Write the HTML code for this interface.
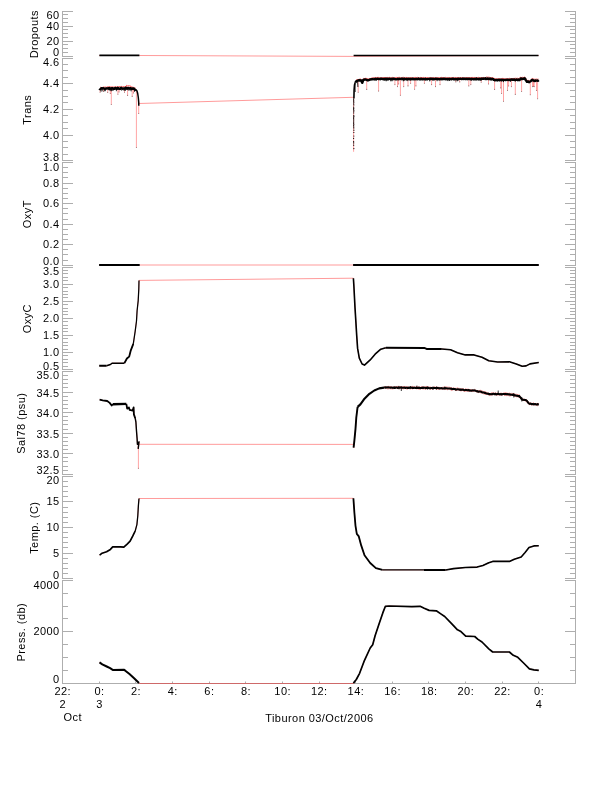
<!DOCTYPE html>
<html lang="en"><head><meta charset="utf-8"><title>Tiburon 03/Oct/2006</title>
<style>html,body{margin:0;padding:0;background:#fff}body{width:612px;height:785px;overflow:hidden}svg{display:block}</style>
</head><body>
<svg width="612" height="785" viewBox="0 0 612 785" font-family="'Liberation Sans', sans-serif" font-size="11" letter-spacing="0.45" fill="#000">
<rect width="612" height="785" fill="#fff"/>
<path d="M62.5 11V57M575.5 11V57M62.0 11.5h11.0M576.0 11.5h-11.0M62.0 14.5h6.0M576.0 14.5h-6.0M62.0 18.5h6.0M576.0 18.5h-6.0M62.0 22.5h6.0M576.0 22.5h-6.0M62.0 26.5h11.0M576.0 26.5h-11.0M62.0 29.5h6.0M576.0 29.5h-6.0M62.0 33.5h6.0M576.0 33.5h-6.0M62.0 37.5h6.0M576.0 37.5h-6.0M62.0 41.5h11.0M576.0 41.5h-11.0M62.0 44.5h6.0M576.0 44.5h-6.0M62.0 48.5h6.0M576.0 48.5h-6.0M62.0 52.5h6.0M576.0 52.5h-6.0M62.0 56.5h11.0M576.0 56.5h-11.0M62.5 58V161M575.5 58V161M62.0 58.5h11.0M576.0 58.5h-11.0M62.0 64.5h6.0M576.0 64.5h-6.0M62.0 70.5h6.0M576.0 70.5h-6.0M62.0 77.5h6.0M576.0 77.5h-6.0M62.0 83.5h11.0M576.0 83.5h-11.0M62.0 90.5h6.0M576.0 90.5h-6.0M62.0 96.5h6.0M576.0 96.5h-6.0M62.0 102.5h6.0M576.0 102.5h-6.0M62.0 109.5h11.0M576.0 109.5h-11.0M62.0 115.5h6.0M576.0 115.5h-6.0M62.0 122.5h6.0M576.0 122.5h-6.0M62.0 128.5h6.0M576.0 128.5h-6.0M62.0 135.5h11.0M576.0 135.5h-11.0M62.0 141.5h6.0M576.0 141.5h-6.0M62.0 147.5h6.0M576.0 147.5h-6.0M62.0 154.5h6.0M576.0 154.5h-6.0M62.0 160.5h11.0M576.0 160.5h-11.0M62.5 162V266M575.5 162V266M62.0 162.5h11.0M576.0 162.5h-11.0M62.0 167.5h6.0M576.0 167.5h-6.0M62.0 172.5h6.0M576.0 172.5h-6.0M62.0 177.5h6.0M576.0 177.5h-6.0M62.0 183.5h11.0M576.0 183.5h-11.0M62.0 188.5h6.0M576.0 188.5h-6.0M62.0 193.5h6.0M576.0 193.5h-6.0M62.0 198.5h6.0M576.0 198.5h-6.0M62.0 203.5h11.0M576.0 203.5h-11.0M62.0 208.5h6.0M576.0 208.5h-6.0M62.0 213.5h6.0M576.0 213.5h-6.0M62.0 219.5h6.0M576.0 219.5h-6.0M62.0 224.5h11.0M576.0 224.5h-11.0M62.0 229.5h6.0M576.0 229.5h-6.0M62.0 234.5h6.0M576.0 234.5h-6.0M62.0 239.5h6.0M576.0 239.5h-6.0M62.0 244.5h11.0M576.0 244.5h-11.0M62.0 249.5h6.0M576.0 249.5h-6.0M62.0 254.5h6.0M576.0 254.5h-6.0M62.0 260.5h6.0M576.0 260.5h-6.0M62.0 265.5h11.0M576.0 265.5h-11.0M62.5 267V370M575.5 267V370M62.0 267.5h11.0M576.0 267.5h-11.0M62.0 270.5h6.0M576.0 270.5h-6.0M62.0 273.5h6.0M576.0 273.5h-6.0M62.0 277.5h6.0M576.0 277.5h-6.0M62.0 280.5h6.0M576.0 280.5h-6.0M62.0 284.5h11.0M576.0 284.5h-11.0M62.0 287.5h6.0M576.0 287.5h-6.0M62.0 291.5h6.0M576.0 291.5h-6.0M62.0 294.5h6.0M576.0 294.5h-6.0M62.0 297.5h6.0M576.0 297.5h-6.0M62.0 301.5h11.0M576.0 301.5h-11.0M62.0 304.5h6.0M576.0 304.5h-6.0M62.0 308.5h6.0M576.0 308.5h-6.0M62.0 311.5h6.0M576.0 311.5h-6.0M62.0 314.5h6.0M576.0 314.5h-6.0M62.0 318.5h11.0M576.0 318.5h-11.0M62.0 321.5h6.0M576.0 321.5h-6.0M62.0 325.5h6.0M576.0 325.5h-6.0M62.0 328.5h6.0M576.0 328.5h-6.0M62.0 331.5h6.0M576.0 331.5h-6.0M62.0 335.5h11.0M576.0 335.5h-11.0M62.0 338.5h6.0M576.0 338.5h-6.0M62.0 342.5h6.0M576.0 342.5h-6.0M62.0 345.5h6.0M576.0 345.5h-6.0M62.0 349.5h6.0M576.0 349.5h-6.0M62.0 352.5h11.0M576.0 352.5h-11.0M62.0 355.5h6.0M576.0 355.5h-6.0M62.0 359.5h6.0M576.0 359.5h-6.0M62.0 362.5h6.0M576.0 362.5h-6.0M62.0 366.5h6.0M576.0 366.5h-6.0M62.0 369.5h11.0M576.0 369.5h-11.0M62.5 371V475M575.5 371V475M62.0 371.5h11.0M576.0 371.5h-11.0M62.0 375.5h6.0M576.0 375.5h-6.0M62.0 379.5h6.0M576.0 379.5h-6.0M62.0 383.5h6.0M576.0 383.5h-6.0M62.0 387.5h6.0M576.0 387.5h-6.0M62.0 392.5h11.0M576.0 392.5h-11.0M62.0 396.5h6.0M576.0 396.5h-6.0M62.0 400.5h6.0M576.0 400.5h-6.0M62.0 404.5h6.0M576.0 404.5h-6.0M62.0 408.5h6.0M576.0 408.5h-6.0M62.0 412.5h11.0M576.0 412.5h-11.0M62.0 416.5h6.0M576.0 416.5h-6.0M62.0 420.5h6.0M576.0 420.5h-6.0M62.0 424.5h6.0M576.0 424.5h-6.0M62.0 429.5h6.0M576.0 429.5h-6.0M62.0 433.5h11.0M576.0 433.5h-11.0M62.0 437.5h6.0M576.0 437.5h-6.0M62.0 441.5h6.0M576.0 441.5h-6.0M62.0 445.5h6.0M576.0 445.5h-6.0M62.0 449.5h6.0M576.0 449.5h-6.0M62.0 453.5h11.0M576.0 453.5h-11.0M62.0 457.5h6.0M576.0 457.5h-6.0M62.0 461.5h6.0M576.0 461.5h-6.0M62.0 466.5h6.0M576.0 466.5h-6.0M62.0 470.5h6.0M576.0 470.5h-6.0M62.0 474.5h11.0M576.0 474.5h-11.0M62.5 476V579M575.5 476V579M62.0 476.5h11.0M576.0 476.5h-11.0M62.0 481.5h6.0M576.0 481.5h-6.0M62.0 486.5h6.0M576.0 486.5h-6.0M62.0 491.5h6.0M576.0 491.5h-6.0M62.0 496.5h6.0M576.0 496.5h-6.0M62.0 501.5h11.0M576.0 501.5h-11.0M62.0 507.5h6.0M576.0 507.5h-6.0M62.0 512.5h6.0M576.0 512.5h-6.0M62.0 517.5h6.0M576.0 517.5h-6.0M62.0 522.5h6.0M576.0 522.5h-6.0M62.0 527.5h11.0M576.0 527.5h-11.0M62.0 532.5h6.0M576.0 532.5h-6.0M62.0 537.5h6.0M576.0 537.5h-6.0M62.0 542.5h6.0M576.0 542.5h-6.0M62.0 547.5h6.0M576.0 547.5h-6.0M62.0 553.5h11.0M576.0 553.5h-11.0M62.0 558.5h6.0M576.0 558.5h-6.0M62.0 563.5h6.0M576.0 563.5h-6.0M62.0 568.5h6.0M576.0 568.5h-6.0M62.0 573.5h6.0M576.0 573.5h-6.0M62.0 578.5h11.0M576.0 578.5h-11.0M62.5 580V684M575.5 580V684M62.0 580.5h11.0M576.0 580.5h-11.0M62.0 593.5h6.0M576.0 593.5h-6.0M62.0 606.5h6.0M576.0 606.5h-6.0M62.0 618.5h6.0M576.0 618.5h-6.0M62.0 631.5h11.0M576.0 631.5h-11.0M62.0 644.5h6.0M576.0 644.5h-6.0M62.0 657.5h6.0M576.0 657.5h-6.0M62.0 670.5h6.0M576.0 670.5h-6.0M62.0 683.5h11.0M576.0 683.5h-11.0M62.0 683.5H576.0M99.5 683.5v-2M135.5 683.5v-2M172.5 683.5v-2M209.5 683.5v-2M245.5 683.5v-2M282.5 683.5v-2M319.5 683.5v-2M355.5 683.5v-2M392.5 683.5v-2M428.5 683.5v-2M465.5 683.5v-2M502.5 683.5v-2M538.5 683.5v-2" stroke="#aeaeae" stroke-width="1" fill="none"/>
<g fill="none" stroke-linejoin="round" stroke-linecap="butt">
<path d="M99.5 662.4L102.3 664.3L106.7 666.5L110.1 668.2L112.7 669.9L123.8 669.7L125.3 670.7L129.2 673.8L134.1 678.2L139.3 683.5L353.4 683.5L356.3 679.5L359.6 673.3L364.5 660.3L370.2 648.0L372.7 644.7L375.1 635.8L379.2 623.5L382.8 612.9L385.4 606.3L389.0 606.0L411.9 606.7L420.1 606.3L424.2 608.3L429.1 610.4L436.3 610.8L440.8 613.9L444.7 616.5L451.6 623.7L457.5 629.8L460.4 631.2L465.7 636.1L474.7 636.5L478.0 639.4L482.0 642.0L488.8 648.8L492.7 652.0L509.4 652.0L513.3 655.3L517.8 657.3L524.1 663.5L529.4 668.8L533.9 669.8L538.8 670.4M99.6 555.2L102.1 553.2L106.6 551.7L110.4 549.4L112.7 546.9L120.6 546.9L123.8 547.1L126.9 544.3L130.1 541.1L132.7 536.1L135.2 531.0L136.9 524.6L137.8 515.7L138.4 505.5L139.0 498.5L353.4 498.3L354.4 512.7L355.5 525.8L356.8 533.9L358.8 536.4L361.2 545.4L364.5 555.2L370.2 563.0L375.9 568.2L382.5 569.9L424.0 569.9L445.7 570.0L453.5 568.6L465.3 567.5L477.1 567.1L482.9 565.5L488.8 562.7L492.7 561.4L509.4 561.4L514.3 559.2L521.2 556.9L525.1 552.4L529.0 547.5L533.9 545.9L538.8 545.7M384.1 386.7L385.1 386.4L386.1 387.1L387.1 386.9L388.1 386.1L389.1 386.9L390.1 386.6L391.1 386.5L392.1 387.3L393.1 387.1L394.1 386.7L395.1 386.9L396.1 386.6L397.1 386.5L398.1 386.3L399.1 386.7L400.1 387.0L401.1 386.0L402.1 387.0L403.1 386.6L404.1 386.3L405.1 386.8L406.1 386.8L407.1 386.9L408.1 386.6L409.1 387.6L410.1 387.1L411.1 387.1L412.1 386.2L413.1 386.8L414.1 386.7L415.1 387.3L416.1 386.7L417.1 386.7L418.1 386.8L419.1 387.1L420.1 387.4L421.1 386.9L422.1 386.6L423.1 387.1L424.1 386.9L425.1 387.0L426.1 386.4L427.1 386.6L428.1 387.0L429.1 387.1L430.1 386.9L431.2 387.5L432.2 387.2L433.2 387.8L434.2 386.6L435.2 387.4L436.2 386.9L437.2 387.3L438.2 387.2L439.2 387.4L440.2 387.4L441.2 387.9L442.2 387.4L443.2 387.2L444.2 387.3L445.2 386.9L446.2 386.9L447.3 387.1L448.3 387.2L449.3 387.2L450.4 387.5L451.4 387.5L452.4 388.4L453.4 387.8L454.5 388.2L455.5 388.3L456.5 388.3L457.5 387.8L458.5 388.3L459.5 388.4L460.5 388.7L461.5 388.9L462.5 388.6L463.5 389.0L464.5 389.7L465.6 388.6L466.6 389.3L467.6 389.2L468.6 389.2L469.6 389.9L470.6 389.6L471.6 389.8L472.6 389.6L473.6 390.1L474.6 389.3L475.6 390.1L476.7 390.6L477.7 390.7L478.7 390.7L479.8 390.4L480.8 390.3L481.9 390.9L482.9 391.2L484.0 392.0L485.0 391.5L486.1 392.3L487.2 392.4L488.3 393.1L489.3 393.4L490.3 393.6L491.3 392.8L492.3 393.0L493.3 392.7L494.3 393.4L495.3 392.6L496.3 393.4L497.3 392.9L498.3 393.4L499.4 394.0L500.4 393.3L501.4 392.9L502.4 393.9L503.4 392.9L504.4 392.9L505.4 392.6L506.4 392.9L507.4 393.2L508.4 393.4L509.5 393.1L510.5 393.7L511.6 393.4L512.7 393.8L513.8 393.5L514.8 394.1L515.9 394.3L517.0 394.3L518.1 394.9L519.2 394.8L520.2 396.3L521.2 397.7L522.2 398.9L523.3 399.2L524.4 399.2L525.5 399.5L526.7 399.7L527.8 401.0L529.0 403.1L530.1 402.7L531.2 403.2L532.3 403.5L533.4 402.7L534.4 403.5L535.5 403.6L536.6 403.7L537.7 403.4L538.8 403.6M384.6 387.9L385.6 388.3L386.6 388.4L387.6 388.9L388.6 388.8L389.6 388.6L390.6 388.8L391.6 388.8L392.6 389.0L393.6 388.7L394.6 388.0L395.6 388.0L396.6 388.0L397.6 388.6L398.6 388.2L399.6 388.8L400.6 388.4L401.6 388.5L402.6 388.7L403.6 388.9L404.6 388.5L405.6 388.3L406.6 389.0L407.6 389.1L408.6 388.5L409.6 388.4L410.6 389.0L411.6 388.2L412.6 389.0L413.6 388.5L414.6 388.1L415.6 388.5L416.6 388.9L417.6 388.7L418.6 389.1L419.6 389.4L420.6 389.1L421.6 388.5L422.6 388.9L423.6 389.0L424.6 388.9L425.6 389.1L426.6 388.9L427.6 388.7L428.6 388.5L429.6 388.9L430.6 389.4L431.7 388.7L432.7 389.3L433.7 388.3L434.7 388.4L435.7 388.8L436.7 389.1L437.7 389.2L438.7 389.3L439.7 389.0L440.7 389.2L441.7 388.8L442.7 389.3L443.7 389.0L444.7 389.5L445.7 389.1L446.8 389.6L447.8 389.7L448.8 388.8L449.8 389.4L450.9 390.0L451.9 390.6L452.9 389.7L454.0 389.7L455.0 389.6L456.0 391.0L457.0 390.0L458.0 390.2L459.0 389.9L460.0 390.3L461.0 391.3L462.0 390.1L463.0 390.8L464.0 391.1L465.0 391.4L466.1 391.1L467.1 390.9L468.1 391.7L469.1 391.0L470.1 391.1L471.1 391.0L472.1 391.5L473.1 391.4L474.1 391.0L475.1 391.1L476.1 391.8L477.2 391.8L478.2 392.9L479.3 391.9L480.3 392.7L481.3 393.0L482.4 393.0L483.4 393.8L484.5 394.1L485.6 394.5L486.7 394.3L487.7 394.4L488.8 395.0L489.8 395.6L490.8 394.9L491.8 395.1L492.8 394.7L493.8 394.5L494.8 394.7L495.8 394.8L496.8 395.4L497.8 394.8L498.9 395.1L499.9 394.9L500.9 395.1L501.9 395.3L502.9 394.5L503.9 394.8L504.9 395.6L505.9 395.4L506.9 395.7L507.9 395.2L508.9 395.9L510.0 396.1L511.1 395.6L512.2 395.6L513.2 395.3L514.3 396.5L515.4 396.3L516.5 396.8L517.6 396.9L518.7 397.0L519.7 397.2L520.7 399.0L521.7 399.5L522.8 400.6L523.9 400.5L525.0 400.6L526.1 401.4L527.3 402.8L528.4 403.7L529.5 404.8L530.6 404.3L531.7 405.2L532.8 404.7L533.9 404.9L535.0 404.8L536.1 405.0L537.2 405.8L538.3 405.3M99.6 399.7L102.7 400.4L107.2 401.0L109.7 402.9L111.7 405.5L112.9 404.2L126.3 403.9L127.2 408.7L128.9 407.4L129.7 409.9L132.7 410.6L133.6 407.4L133.9 414.4L135.2 418.2L135.9 422.0L136.5 431.0L137.1 438.6L137.4 444.3L139.0 441.8L138.2 448.8L138.4 444.3L353.4 444.4L353.6 447.7L354.4 440.4L355.5 428.9L356.3 417.5L357.6 406.9L360.4 404.4L364.5 398.7L369.4 393.8L374.3 390.5L379.2 388.4L384.1 387.6L417.1 387.8L444.7 388.3L455.5 389.3L475.1 390.7L482.9 392.3L488.8 394.0L508.4 394.2L514.3 395.2L519.2 396.2L522.2 399.5L526.1 400.1L529.0 403.4L533.9 404.4L538.8 404.2M99.2 365.8L106.6 365.8L110.4 364.5L112.3 363.2L124.4 363.2L126.9 358.5L129.2 356.6L130.8 350.3L133.3 343.9L135.2 331.1L136.5 321.0L137.1 310.8L138.2 300.6L138.8 289.1L139.0 280.4L353.4 278.2L353.9 286.3L355.0 307.6L356.0 323.9L356.7 335.4L357.6 348.4L359.3 358.2L362.1 364.0L364.5 365.1L370.2 359.9L375.1 354.2L380.8 349.2L385.8 347.8L424.2 347.9L426.6 348.9L441.8 349.0L450.6 349.8L457.5 352.7L465.3 354.9L474.1 354.9L482.0 357.3L488.8 360.8L497.6 362.0L509.4 361.8L516.3 363.9L522.2 366.3L526.1 365.9L530.0 363.9L538.8 362.5M99.1 265.0L139.7 265.0L353.1 265.0L538.8 265.0M99.1 55.5L139.7 55.5L353.3 56.4L538.8 55.5M138.8 103.5L353.1 97.3" stroke="#ff0000" stroke-width="0.4"/>
<path d="M100.2 87.4L100.8 87.3L101.4 87.5L102.0 87.4L102.6 87.4L103.2 86.9L103.8 87.3L104.4 87.2L105.0 87.3L105.6 87.1L106.2 87.4L106.8 87.1L107.4 86.9L108.0 86.9L108.6 86.8L109.2 87.0L109.8 86.7L110.4 87.0L111.0 86.7L111.6 87.0L112.2 86.9L112.8 87.0L113.4 87.2L114.0 86.6L114.6 87.1L115.2 86.9L115.8 86.9L116.4 87.0L117.0 87.1L117.6 86.7L118.2 86.8L118.8 87.1L119.4 86.5L120.0 86.9L120.6 86.9L121.2 86.4L121.8 86.8L122.4 86.9L123.0 87.0L123.6 86.6L124.2 87.0L124.8 86.7L125.4 86.7L126.0 86.9L126.6 85.4L127.2 85.9L127.8 85.9L128.4 85.7L129.0 86.2L129.6 85.9L130.2 86.0L130.8 86.1L131.4 87.3L132.0 87.0L132.6 87.2L133.2 87.3L133.8 87.5L134.4 87.9L135.0 87.7L135.6 88.2M356.0 80.4L356.6 79.9L357.2 79.6L357.8 79.5L358.4 79.5L359.0 79.1L359.6 79.2L360.2 79.0L360.8 79.2L361.4 79.7L362.0 81.2L362.6 80.6L363.2 79.2L363.8 78.3L364.4 78.5L365.0 78.4L365.6 78.3L366.2 78.3L366.8 78.6L367.4 78.7L368.0 78.9L368.6 79.1L369.2 78.7L369.8 78.5L370.4 78.5L371.0 78.4L371.6 78.1L372.2 78.0L372.8 77.9L373.4 77.9L374.0 77.7L374.6 77.8L375.2 77.5L375.8 77.8L376.4 77.6L377.0 77.8L377.6 77.4L378.2 77.5L378.8 77.4L379.4 77.8L380.0 77.9L380.6 77.7L381.2 77.6L381.8 77.8L382.4 77.8L383.0 77.7L383.6 77.5L384.2 77.5L384.8 77.6L385.4 77.5L386.0 77.6L386.6 77.7L387.2 77.9L387.8 77.4L388.4 77.7L389.0 77.4L389.6 77.4L390.2 77.8L390.8 77.7L391.4 77.9L392.0 77.6L392.6 77.4L393.2 77.6L393.8 77.7L394.4 77.9L395.0 77.9L395.6 77.6L396.2 77.6L396.8 77.4L397.4 77.7L398.0 77.5L398.6 77.4L399.2 77.4L399.8 77.4L400.4 77.8L401.0 77.4L401.6 77.9L402.2 77.4L402.8 77.9L403.4 77.4L404.0 77.4L404.6 77.8L405.2 77.5L405.8 77.8L406.4 77.5L407.0 77.4L407.6 77.8L408.2 77.8L408.8 77.9L409.4 77.8L410.0 77.4L410.6 77.7L411.2 77.8L411.8 77.6L412.4 77.9L413.0 77.5L413.6 77.9L414.2 77.8L414.8 77.4L415.4 77.4L416.0 77.7L416.6 77.8L417.2 77.4L417.8 77.5L418.4 77.8L419.0 77.4L419.6 77.9L420.2 77.6L420.8 77.4L421.4 77.6L422.0 77.7L422.6 77.6L423.2 77.8L423.8 77.4L424.4 77.8L425.0 77.6L425.6 77.7L426.2 77.7L426.8 77.6L427.4 77.6L428.0 77.8L428.6 77.9L429.2 77.8L429.8 77.7L430.4 77.5L431.0 77.4L431.6 77.9L432.2 77.8L432.8 77.8L433.4 77.5L434.0 77.7L434.6 77.9L435.2 77.8L435.8 77.7L436.4 77.5L437.0 77.6L437.6 77.9L438.2 77.6L438.8 77.8L439.4 77.7L440.0 77.9L440.6 77.8L441.2 77.5L441.8 77.4L442.4 77.5L443.0 77.6L443.6 77.7L444.2 77.8L444.8 77.9L445.4 77.4L446.0 77.8L446.6 77.8L447.2 77.9L447.8 77.7L448.4 77.5L449.0 77.9L449.6 77.8L450.2 77.8L450.8 77.9L451.4 77.6L452.0 77.4L452.6 77.7L453.2 77.8L453.8 77.5L454.4 77.8L455.0 77.9L455.6 77.5L456.2 77.7L456.8 77.8L457.4 77.6L458.0 77.5L458.6 77.5L459.2 77.8L459.8 77.8L460.4 77.6L461.0 77.4L461.6 77.8L462.2 77.8L462.8 77.5L463.4 77.7L464.0 77.9L464.6 77.9L465.2 77.7L465.8 77.6L466.4 77.7L467.0 77.5L467.6 77.5L468.2 77.5L468.8 77.8L469.4 77.6L470.0 77.7L470.6 77.6L471.2 77.7L471.8 77.4L472.4 77.4L473.0 77.9L473.6 77.6L474.2 77.4L474.8 77.7L475.4 77.8L476.0 77.4L476.6 77.7L477.2 77.6L477.8 77.7L478.4 77.4L479.0 77.4L479.6 77.9L480.2 77.9L480.8 77.6L481.4 77.6L482.0 77.4L482.6 77.7L483.2 77.4L483.8 77.7L484.4 77.6L485.0 77.6L485.6 77.6L486.2 77.2L486.8 77.1L487.4 77.2L488.0 77.2L488.6 77.2L489.2 77.2L489.8 77.5L490.4 77.7L491.0 77.5L491.6 77.8L492.2 77.8L492.8 77.5L493.4 78.2L494.0 78.4L494.6 78.5L495.2 79.0L495.8 78.6L496.4 78.8L497.0 78.8L497.6 79.0L498.2 78.8L498.8 78.6L499.4 78.7L500.0 78.5L500.6 79.0L501.2 79.0L501.8 78.5L502.4 78.4L503.0 78.5L503.6 78.5L504.2 78.9L504.8 78.9L505.4 78.8L506.0 78.3L506.6 78.8L507.2 78.7L507.8 78.7L508.4 78.9L509.0 78.3L509.6 78.4L510.2 78.7L510.8 78.8L511.4 78.7L512.0 78.4L512.6 78.6L513.2 78.7L513.8 78.3L514.4 78.4L515.0 78.4L515.6 78.3L516.2 78.5L516.8 78.3L517.4 78.3L518.0 78.3L518.6 78.6L519.2 78.2L519.8 78.1L520.4 77.3L521.0 77.1L521.6 77.6L522.2 77.2L522.8 77.6L523.4 77.6L524.0 77.6L524.6 77.1L525.2 77.5L525.8 78.6L526.4 80.3L527.0 80.4L527.6 80.4L528.2 80.4L528.8 80.5L529.4 80.9L530.0 80.5L530.6 80.1L531.2 79.4L531.8 79.0L532.4 78.5L533.0 79.1L533.6 79.1L534.2 79.0L534.8 79.6L535.4 79.3L536.0 79.3L536.6 79.1L537.2 79.1L537.8 79.4L538.4 79.1" stroke="#ff0000" stroke-width="0.7"/>
<path d="M138.4 445.0L138.4 468.5M100.1 88.7L100.1 92.3M103.5 88.6L103.5 91.5M107.7 88.5L107.7 92.5M110.3 88.4L110.3 93.5M111.3 88.4L111.3 104.5M117.9 88.3L117.9 94.3M119.0 88.2L119.0 92.0M124.5 88.1L124.5 92.2M127.6 88.2L127.6 95.4M132.2 88.6L132.2 96.4M133.5 88.8L133.5 93.0M136.4 90.3L136.4 147.5M138.7 102.0L138.7 113.5M358.2 80.6L358.2 92.3M366.7 80.0L366.7 89.4M378.6 78.9L378.6 91.1M394.9 78.9L394.9 84.6M397.5 78.9L397.5 86.6M398.6 78.9L398.6 84.0M400.4 78.9L400.4 95.3M403.7 78.9L403.7 86.6M408.0 78.9L408.0 85.9M410.6 78.9L410.6 83.3M414.6 78.9L414.6 89.2M415.9 78.9L415.9 85.9M424.4 78.9L424.4 83.3M431.6 78.9L431.6 84.6M435.5 78.9L435.5 86.6M440.0 78.9L440.0 84.6M455.8 78.9L455.8 81.9M459.7 78.9L459.7 81.9M468.8 78.9L468.8 85.9M470.8 78.9L470.8 84.6M481.2 78.8L481.2 82.2M488.5 78.7L488.5 84.0M494.6 80.0L494.6 89.4M500.7 79.9L500.7 87.9M501.6 79.9L501.6 93.5M503.5 79.9L503.5 101.3M507.5 79.8L507.5 90.5M508.6 79.8L508.6 86.0M511.4 79.8L511.4 86.6M515.3 79.7L515.3 94.4M521.6 78.6L521.6 91.5M530.3 81.5L530.3 94.8M532.6 80.1L532.6 86.6M533.4 80.3L533.4 86.2M534.2 80.5L534.2 86.6M536.5 80.6L536.5 90.5M537.6 80.5L537.6 98.7M353.6 97.3L353.6 151.8" stroke="#ff0000" stroke-width="0.36"/>
<g transform="scale(1.0 1)" stroke-linecap="butt">
<path d="M398.90 385.9L398.90 389.3M401.30 386.5L401.30 391.0M416.90 385.6L416.90 388.0M410.50 386.2L410.50 388.0M427.60 386.3L427.60 389.4M433.10 386.4L433.10 389.5M436.50 386.6L436.50 389.5M444.70 386.6L444.70 389.5M498.20 390.5L498.20 395.0M513.80 393.0L513.80 397.5M521.80 397.0L521.80 401.5" stroke="#000" stroke-width="0.8"/>
<path d="M133.30 343.9L135.20 331.1L136.50 321.0L137.10 310.8L138.20 300.6L138.80 289.1L139.00 280.4" stroke="#000" stroke-width="1.25"/>
<path d="M135.20 531.0L136.90 524.6L137.80 515.7L138.40 505.5L139.00 498.5" stroke="#000" stroke-width="1.3"/>
<path d="M382.50 569.9L424.00 569.9" stroke="#000" stroke-width="1.35"/>
<path d="M135.20 418.2L135.90 422.0L136.50 431.0L137.10 438.6L137.40 444.3L139.00 441.8L138.20 448.8" stroke="#000" stroke-width="1.4"/>
<path d="M106.60 365.8L110.40 364.5L112.30 363.2L124.40 363.2M135.70 89.5L136.90 90.8L137.70 93.5L138.30 97.5L138.70 102.0L138.80 105.8" stroke="#000" stroke-width="1.5"/>
<path d="M445.70 570.0L453.50 568.6L465.30 567.5L477.10 567.1L482.90 565.5L488.80 562.7L492.70 561.4L509.40 561.4L514.30 559.2L521.20 556.9L525.10 552.4L529.00 547.5L533.90 545.9L538.80 545.7M353.40 278.2L353.90 286.3L355.00 307.6L356.00 323.9L356.70 335.4L357.60 348.4L359.30 358.2L362.10 364.0L364.50 365.1L370.20 359.9L375.10 354.2L380.80 349.2L385.80 347.8M441.80 349.0L450.60 349.8L457.50 352.7L465.30 354.9L474.10 354.9L482.00 357.3L488.80 360.8L497.60 362.0L509.40 361.8L516.30 363.9L522.20 366.3L526.10 365.9L530.00 363.9L538.80 362.5M99.40 55.4L139.40 55.4M353.60 55.5L538.50 55.5M353.90 98.5L354.10 90.0L354.50 85.0L355.30 82.3" stroke="#000" stroke-width="1.6"/>
<path d="M353.40 683.1L356.30 679.5L359.60 673.3L364.50 660.3L370.20 648.0L372.70 644.7L375.10 635.8L379.20 623.5L382.80 612.9L385.40 606.3L389.00 606.0L411.90 606.7L420.10 606.3L424.20 608.3L429.10 610.4L436.30 610.8L440.80 613.9L444.70 616.5L451.60 623.7L457.50 629.8L460.40 631.2L465.70 636.1L474.70 636.5L478.00 639.4L482.00 642.0L488.80 648.8L492.70 652.0L509.40 652.0L513.30 655.3L517.80 657.3L524.10 663.5L529.40 668.8L533.90 669.8L538.80 670.4M99.60 555.2L102.10 553.2L106.60 551.7L110.40 549.4L112.70 546.9L120.60 546.9L123.80 547.1L126.90 544.3L130.10 541.1L132.70 536.1L135.20 531.0" stroke="#000" stroke-width="1.7"/>
<path d="M353.40 498.3L354.40 512.7L355.50 525.8L356.80 533.9L358.80 536.4L361.20 545.4L364.50 555.2L370.20 563.0L375.90 568.2L382.50 569.9M99.60 399.7L102.70 400.4L107.20 401.0L109.70 402.9L111.70 405.5L112.90 404.2M126.30 403.9L127.20 408.7L128.90 407.4L129.70 409.9L132.70 410.6L133.60 407.4L133.90 414.4L135.20 418.2M124.40 363.2L126.90 358.5L129.20 356.6L130.80 350.3L133.30 343.9" stroke="#000" stroke-width="1.8"/>
<path d="M353.60 447.7L354.40 440.4L355.50 428.9L356.30 417.5L357.60 406.9" stroke="#000" stroke-width="1.9"/>
<path d="M99.50 662.4L102.30 664.3L106.70 666.5L110.10 668.2L112.70 669.9L123.80 669.7L125.30 670.7L129.20 673.8L134.10 678.2L139.00 683.0M424.00 569.9L445.70 570.0M384.10 387.5L384.60 387.4L385.10 387.7L385.60 387.3L386.10 387.6L386.60 387.5L387.10 387.3L387.60 387.6L388.10 387.3L388.60 387.6L389.10 387.4L389.60 387.4L390.10 387.6L390.60 387.8L391.10 387.4L391.60 387.5L392.10 387.7L392.60 387.9L393.10 387.7L393.60 387.6L394.10 388.0L394.60 387.4L395.10 387.9L395.60 387.5L396.10 387.4L396.60 387.4L397.10 387.6L397.60 387.9L398.10 387.5L398.60 387.7L399.10 387.8L399.60 387.6L400.10 387.7L400.60 387.4L401.10 387.4L401.60 387.5L402.10 387.8L402.60 387.7L403.10 387.6L403.60 387.8L404.10 387.7L404.60 387.6L405.10 387.9L405.60 387.9L406.10 387.6L406.60 387.8L407.10 387.8L407.60 388.0L408.10 387.9L408.60 387.6L409.10 388.1L409.60 387.5L410.10 387.7L410.60 387.9L411.10 387.5L411.60 387.8L412.10 387.5L412.60 387.9L413.10 387.9L413.60 387.8L414.10 388.0L414.60 387.7L415.10 387.9L415.60 387.9L416.10 387.8L416.60 387.8L417.10 388.0L417.60 388.1L418.10 387.8L418.61 387.9L419.11 387.6L419.61 388.0L420.11 387.9L420.61 388.2L421.11 388.1L421.62 387.7L422.12 387.8L422.62 388.0L423.12 387.6L423.62 387.9L424.13 387.7L424.63 387.7L425.13 387.7L425.63 388.1L426.13 387.7L426.63 387.8L427.14 387.9L427.64 388.2L428.14 387.7L428.64 388.0L429.14 388.0L429.65 388.3L430.15 388.2L430.65 388.3L431.15 387.9L431.65 388.0L432.15 388.0L432.66 388.3L433.16 388.4L433.66 387.9L434.16 387.9L434.66 387.9L435.17 388.0L435.67 388.1L436.17 388.2L436.67 388.0L437.17 387.8L437.67 388.1L438.18 388.1L438.68 388.2L439.18 388.5L439.68 388.3L440.18 388.2L440.69 388.3L441.19 388.3L441.69 388.0L442.19 388.5L442.69 388.4L443.19 388.5L443.70 388.5L444.20 388.2L444.70 388.2L445.21 388.1L445.73 388.5L446.24 388.2L446.76 388.2L447.27 388.4L447.79 388.4L448.30 388.5L448.81 388.4L449.33 388.4L449.84 388.6L450.36 388.6L450.87 388.8L451.39 388.6L451.90 389.2L452.41 389.1L452.93 388.8L453.44 389.0L453.96 389.1L454.47 389.1L454.99 389.0L455.50 389.5L456.00 389.7L456.51 389.4L457.01 389.4L457.51 389.2L458.01 389.2L458.52 389.4L459.02 389.4L459.52 389.8L460.02 389.4L460.53 389.4L461.03 390.0L461.53 389.7L462.03 389.5L462.54 389.8L463.04 389.5L463.54 389.9L464.04 390.2L464.55 390.2L465.05 390.1L465.55 389.9L466.05 390.0L466.56 389.9L467.06 390.3L467.56 390.2L468.06 390.4L468.57 390.1L469.07 390.1L469.57 390.5L470.07 390.7L470.58 390.6L471.08 390.6L471.58 390.7L472.08 390.6L472.59 390.3L473.09 390.6L473.59 390.5L474.09 390.3L474.60 390.4L475.10 390.6L475.62 390.7L476.14 391.0L476.66 391.3L477.18 391.1L477.70 391.5L478.22 391.7L478.74 391.7L479.26 391.5L479.78 391.5L480.30 391.6L480.82 391.7L481.34 391.8L481.86 392.2L482.38 392.4L482.90 392.5L483.44 392.4L483.97 392.7L484.51 393.0L485.05 392.7L485.58 393.2L486.12 393.5L486.65 393.6L487.19 393.7L487.73 393.7L488.26 393.6L488.80 394.2L489.30 393.9L489.81 394.2L490.31 394.3L490.81 394.0L491.31 394.0L491.82 394.3L492.32 394.2L492.82 393.8L493.32 393.8L493.83 393.8L494.33 394.3L494.83 394.3L495.33 393.8L495.84 394.3L496.34 394.4L496.84 394.2L497.34 394.0L497.85 394.1L498.35 393.9L498.85 393.8L499.35 394.4L499.86 394.2L500.36 394.1L500.86 394.4L501.36 394.1L501.87 394.4L502.37 394.3L502.87 394.0L503.37 394.0L503.88 394.0L504.38 394.0L504.88 394.2L505.38 394.0L505.89 394.1L506.39 393.9L506.89 394.4L507.39 394.1L507.90 394.2L508.40 394.3L508.94 394.5L509.47 394.3L510.01 394.7L510.55 394.6L511.08 394.7L511.62 394.8L512.15 394.5L512.69 394.9L513.23 394.8L513.76 394.8L514.30 395.4L514.84 395.1L515.39 395.4L515.93 395.7L516.48 395.7L517.02 395.6L517.57 395.9L518.11 396.0L518.66 396.3L519.20 395.9L519.70 396.8L520.20 397.1L520.70 397.7L521.20 398.6L521.70 399.0L522.20 399.5L522.76 399.8L523.31 399.9L523.87 399.7L524.43 399.9L524.99 399.9L525.54 400.0L526.10 400.2L526.68 400.7L527.26 401.4L527.84 402.1L528.42 403.0L529.00 403.5L529.54 403.8L530.09 403.9L530.63 403.6L531.18 403.9L531.72 404.2L532.27 404.3L532.81 403.9L533.36 404.0L533.90 404.4L534.44 404.1L534.99 404.2L535.53 404.1L536.08 404.4L536.62 404.5L537.17 404.5L537.71 404.0L538.26 404.4L538.80 404.2M99.20 365.8L106.60 365.8M385.80 347.8L424.20 347.9L426.60 348.9L441.80 349.0" stroke="#000" stroke-width="2.0"/>
<path d="M357.60 406.9L360.40 404.4L364.50 398.7L369.40 393.8L374.30 390.5L379.20 388.4L384.10 387.6" stroke="#000" stroke-width="2.1"/>
<path d="M99.10 265.0L139.70 265.0M353.10 265.0L538.80 265.0" stroke="#000" stroke-width="2.2"/>
<path d="M374.00 79.1L374.45 79.3L374.90 78.9L375.35 78.7L375.80 78.8L376.26 79.4L376.71 79.1L377.16 78.8L377.61 78.6L378.06 79.0L378.51 79.1L378.96 78.9L379.41 78.8L379.86 79.1L380.31 79.3L380.77 78.7L381.22 78.6L381.67 78.8L382.12 78.9L382.57 79.1L383.02 78.7L383.47 79.2L383.92 79.2L384.37 79.0L384.83 78.7L385.28 79.4L385.73 78.8L386.18 79.2L386.63 78.7L387.08 78.7L387.53 79.2L387.98 78.8L388.43 79.4L388.89 79.0L389.34 78.7L389.79 78.7L390.24 78.9L390.69 79.1L391.14 79.4L391.59 78.7L392.04 78.9L392.49 78.7L392.94 79.4L393.40 78.7L393.85 78.6L394.30 78.6L394.75 78.9L395.20 79.3L395.65 79.3L396.10 79.2L396.55 79.4L397.00 79.3L397.46 78.8L397.91 78.7L398.36 79.3L398.81 79.2L399.26 78.6L399.71 79.1L400.16 78.9L400.61 78.9L401.06 78.8L401.51 78.7L401.97 78.5L402.42 78.8L402.87 78.8L403.32 79.4L403.77 78.6L404.22 79.4L404.67 78.7L405.12 78.8L405.57 79.2L406.03 79.2L406.48 78.9L406.93 78.6L407.38 78.9L407.83 78.9L408.28 79.3L408.73 78.7L409.18 78.9L409.63 79.3L410.09 78.6L410.54 78.9L410.99 79.2L411.44 79.2L411.89 78.6L412.34 78.6L412.79 78.6L413.24 79.3L413.69 78.8L414.14 79.2L414.60 79.3L415.05 78.8L415.50 78.8L415.95 79.4L416.40 79.1L416.85 78.8L417.30 79.2L417.75 78.8L418.20 78.8L418.66 78.5L419.11 79.2L419.56 79.3L420.01 79.1L420.46 79.4L420.91 78.6L421.36 78.7L421.81 78.9L422.26 79.4L422.71 79.4L423.17 78.9L423.62 78.8L424.07 78.9L424.52 79.0L424.97 79.3L425.42 78.7L425.87 79.2L426.32 79.2L426.77 79.2L427.23 79.2L427.68 79.1L428.13 78.8L428.58 78.8L429.03 78.8L429.48 79.2L429.93 78.6L430.38 78.7L430.83 79.2L431.29 78.8L431.74 78.6L432.19 78.6L432.64 79.0L433.09 78.8L433.54 79.4L433.99 79.3L434.44 79.4L434.89 78.8L435.34 78.6L435.80 78.6L436.25 79.0L436.70 79.1L437.15 78.9L437.60 78.7L438.05 78.9L438.50 79.1L438.95 79.1L439.40 79.2L439.86 79.3L440.31 79.1L440.76 78.6L441.21 79.3L441.66 78.8L442.11 79.0L442.56 78.9L443.01 79.2L443.46 78.7L443.91 78.8L444.37 78.7L444.82 78.7L445.27 79.3L445.72 79.0L446.17 78.8L446.62 78.9L447.07 79.4L447.52 79.0L447.97 78.7L448.43 79.2L448.88 79.1L449.33 79.4L449.78 78.6L450.23 78.9L450.68 79.2L451.13 79.3L451.58 79.3L452.03 78.6L452.49 78.8L452.94 78.6L453.39 78.7L453.84 79.4L454.29 79.0L454.74 79.3L455.19 78.9L455.64 79.3L456.09 78.9L456.54 78.8L457.00 79.2L457.45 79.4L457.90 78.6L458.35 79.1L458.80 79.1L459.25 78.7L459.70 78.9L460.15 78.7L460.60 78.7L461.06 78.8L461.51 79.1L461.96 79.1L462.41 78.7L462.86 78.5L463.31 78.8L463.76 79.1L464.21 78.7L464.66 78.8L465.11 78.7L465.57 79.2L466.02 79.0L466.47 78.6L466.92 78.6L467.37 78.9L467.82 79.0L468.27 79.1L468.72 78.6L469.17 78.7L469.63 79.1L470.08 78.9L470.53 78.8L470.98 78.8L471.43 79.4L471.88 78.8L472.33 79.0L472.78 78.8L473.23 78.9L473.69 79.3L474.14 79.4L474.59 78.9L475.04 78.7L475.49 79.2L475.94 78.7L476.39 78.5L476.84 79.3L477.29 78.9L477.74 79.2L478.20 78.9L478.65 79.3L479.10 78.9L479.55 78.7L480.00 78.6L480.47 79.0L480.95 79.0L481.42 79.2L481.89 78.5L482.36 78.9L482.84 78.7L483.31 78.8L483.78 78.4L484.25 78.5L484.73 78.7L485.20 79.0L485.68 78.3L486.16 78.7L486.64 79.0L487.12 79.1L487.60 78.5L488.08 78.4L488.56 79.1L489.04 79.2L489.52 78.8L490.00 78.4L490.48 79.2L490.96 78.7L491.44 79.2L491.92 79.0L492.40 79.1L492.90 78.9L493.40 79.7L493.90 79.5L494.40 80.0L494.85 80.4L495.30 80.3L495.75 79.8L496.20 79.8L496.65 80.0L497.11 80.1L497.56 79.9L498.01 79.7L498.46 79.8L498.91 80.2L499.36 80.4L499.81 79.6L500.26 80.1L500.71 80.2L501.16 79.6L501.61 80.3L502.07 79.6L502.52 80.1L502.97 80.0L503.42 80.1L503.87 79.8L504.32 79.9L504.77 80.0L505.22 79.9L505.67 80.1L506.12 79.9L506.57 79.9L507.03 79.5L507.48 80.0L507.93 79.9L508.38 79.7L508.83 80.1L509.28 80.1L509.73 79.8L510.18 79.6L510.63 79.8L511.08 79.5L511.53 79.5L511.99 79.8L512.44 79.5L512.89 79.8L513.34 79.8L513.79 79.4L514.24 79.9L514.69 79.5L515.14 80.0L515.59 80.1L516.04 79.8L516.49 79.4L516.95 79.8L517.40 79.7L517.85 80.2L518.30 79.5L518.75 80.1L519.20 80.2L519.85 79.4L520.50 78.9L520.96 78.4L521.42 79.1L521.88 78.7L522.34 79.1L522.80 79.0L523.26 78.4L523.72 78.9L524.18 79.0L524.64 78.3L525.10 78.5L525.75 80.2L526.40 81.1L526.87 81.8L527.34 81.4L527.81 81.9L528.29 81.5L528.76 81.9L529.23 82.3L529.70 81.8L530.22 81.5L530.74 81.3L531.26 80.7L531.78 80.1L532.30 79.8L532.82 79.9L533.34 80.7L533.86 80.6L534.38 81.0L534.90 80.5L535.39 81.0L535.88 80.4L536.36 80.7L536.85 80.7L537.34 80.5L537.82 80.9L538.31 80.6L538.80 80.2" stroke="#000" stroke-width="2.3"/>
<path d="M112.90 404.2L126.30 403.9M99.40 88.5L99.87 89.2L100.33 89.3L100.80 88.7L101.27 88.3L101.73 88.4L102.20 88.2L102.67 88.5L103.13 88.2L103.60 88.4L104.07 88.4L104.53 88.7L105.00 89.1L105.47 88.9L105.93 88.5L106.40 88.5L106.87 88.6L107.33 88.4L107.80 88.4L108.27 88.1L108.73 88.3L109.20 89.1L109.67 88.1L110.13 88.5L110.60 88.7L111.07 88.9L111.53 88.2L112.00 88.2L112.45 88.2L112.90 88.3L113.35 88.4L113.81 89.0L114.26 88.8L114.71 88.8L115.16 87.9L115.61 87.9L116.06 88.6L116.52 88.8L116.97 88.3L117.42 88.5L117.87 87.8L118.32 88.2L118.77 88.8L119.23 88.7L119.68 88.7L120.13 88.8L120.58 88.0L121.03 87.8L121.48 87.9L121.94 88.3L122.39 88.5L122.84 88.8L123.29 88.5L123.74 88.4L124.19 88.5L124.65 88.2L125.10 88.3L125.55 87.7L126.00 88.5L126.47 87.9L126.93 88.7L127.40 88.5L127.87 88.1L128.33 87.9L128.80 88.1L129.27 88.6L129.73 88.7L130.20 88.1L130.67 88.1L131.13 88.6L131.60 88.8L132.07 88.6L132.53 88.4L133.00 88.9L133.54 88.4L134.08 88.9L134.62 89.2L135.16 89.9L135.70 89.2" stroke="#000" stroke-width="2.4"/>
<path d="M355.30 82.3L356.50 81.2L359.20 80.2L361.20 80.6L362.20 82.8L363.30 80.0L365.20 79.4L367.90 80.4L370.00 79.6L374.00 78.9" stroke="#000" stroke-width="2.5"/>
</g>
<path d="M101.0 88.7L101.0 91.7M102.2 88.6L102.2 91.3M104.3 88.6L104.3 91.3M105.3 88.6L105.3 91.2M109.6 88.5L109.6 90.1M110.3 88.4L110.3 90.9M111.3 88.4L111.3 91.3M112.0 88.4L112.0 90.9M112.7 88.4L112.7 90.5M113.4 88.4L113.4 90.3M116.4 88.3L116.4 91.2M117.3 88.3L117.3 90.0M119.9 88.2L119.9 90.2M121.7 88.2L121.7 90.7M124.1 88.1L124.1 91.0M124.7 88.1L124.7 90.3M125.5 88.1L125.5 90.8M127.7 88.2L127.7 90.1M128.9 88.3L128.9 90.8M130.3 88.5L130.3 90.5M131.2 88.5L131.2 91.4M134.5 89.2L134.5 91.8M375.0 78.9L375.0 80.4M376.1 78.9L376.1 80.7M384.1 78.9L384.1 81.0M386.2 78.9L386.2 81.3M387.0 78.9L387.0 80.6M390.7 78.9L390.7 81.3M392.0 78.9L392.0 81.3M401.7 78.9L401.7 80.5M403.3 78.9L403.3 81.3M404.3 78.9L404.3 80.4M406.4 78.9L406.4 80.5M407.3 78.9L407.3 81.1M410.8 78.9L410.8 80.9M418.0 78.9L418.0 80.4M423.9 78.9L423.9 80.4M425.8 78.9L425.8 80.7M427.2 78.9L427.2 80.6M429.7 78.9L429.7 81.4M432.8 78.9L432.8 80.8M437.1 78.9L437.1 81.2M439.1 78.9L439.1 80.5M447.9 78.9L447.9 81.1M449.4 78.9L449.4 81.0M457.2 78.9L457.2 81.3M458.0 78.9L458.0 80.6M467.2 78.9L467.2 80.5M471.1 78.9L471.1 80.8M476.0 78.9L476.0 80.5M479.2 78.9L479.2 80.5M480.3 78.9L480.3 80.9M481.3 78.8L481.3 80.4M491.4 78.8L491.4 80.6M497.1 80.0L497.1 82.0M503.5 79.9L503.5 82.1M510.5 79.8L510.5 81.9M515.1 79.8L515.1 81.6M520.0 79.0L520.0 81.2M357.6 82.0L357.9 87.0M355.0 84.0L355.2 92.0" stroke="#000" stroke-width="0.8"/>
</g>
<g fill="#000"><circle cx="353.62" cy="99.2" r="0.6"/><circle cx="353.72" cy="100.3" r="0.6"/><circle cx="353.73" cy="101.5" r="0.6"/><circle cx="353.81" cy="102.6" r="0.6"/><circle cx="353.68" cy="103.8" r="0.6"/><circle cx="353.82" cy="104.9" r="0.6"/><circle cx="353.67" cy="107.2" r="0.6"/><circle cx="353.72" cy="108.4" r="0.6"/><circle cx="353.64" cy="109.5" r="0.6"/><circle cx="353.84" cy="110.7" r="0.6"/><circle cx="353.74" cy="111.8" r="0.6"/><circle cx="353.67" cy="113.0" r="0.6"/><circle cx="353.79" cy="115.3" r="0.6"/><circle cx="353.84" cy="116.4" r="0.6"/><circle cx="353.69" cy="117.6" r="0.6"/><circle cx="353.64" cy="118.7" r="0.6"/><circle cx="353.71" cy="119.9" r="0.6"/><circle cx="353.68" cy="121.0" r="0.6"/><circle cx="353.68" cy="122.2" r="0.6"/><circle cx="353.66" cy="123.3" r="0.6"/><circle cx="353.82" cy="124.5" r="0.6"/><circle cx="353.67" cy="125.6" r="0.6"/><circle cx="353.74" cy="126.8" r="0.6"/><circle cx="353.79" cy="127.9" r="0.6"/><circle cx="353.88" cy="130.2" r="0.6"/><circle cx="353.85" cy="132.5" r="0.6"/><circle cx="353.85" cy="136.0" r="0.6"/><circle cx="353.60" cy="138.3" r="0.6"/><circle cx="353.63" cy="141.7" r="0.6"/><circle cx="353.67" cy="142.9" r="0.6"/><circle cx="353.65" cy="145.2" r="0.6"/><circle cx="353.87" cy="148.6" r="0.6"/></g>
<g fill="#4a2020" fill-opacity="0.55"><circle cx="138.4" cy="468.3" r="0.55"/><circle cx="100.1" cy="92.3" r="0.55"/><circle cx="103.5" cy="91.5" r="0.55"/><circle cx="107.7" cy="92.5" r="0.55"/><circle cx="110.3" cy="93.5" r="0.55"/><circle cx="111.3" cy="104.5" r="0.55"/><circle cx="117.9" cy="94.3" r="0.55"/><circle cx="119.0" cy="92.0" r="0.55"/><circle cx="124.5" cy="92.2" r="0.55"/><circle cx="127.6" cy="95.4" r="0.55"/><circle cx="132.2" cy="96.4" r="0.55"/><circle cx="133.5" cy="93.0" r="0.55"/><circle cx="136.4" cy="147.5" r="0.55"/><circle cx="138.7" cy="113.5" r="0.55"/><circle cx="358.2" cy="92.3" r="0.55"/><circle cx="366.7" cy="89.4" r="0.55"/><circle cx="378.6" cy="91.1" r="0.55"/><circle cx="394.9" cy="84.6" r="0.55"/><circle cx="397.5" cy="86.6" r="0.55"/><circle cx="398.6" cy="84.0" r="0.55"/><circle cx="400.4" cy="95.3" r="0.55"/><circle cx="403.7" cy="86.6" r="0.55"/><circle cx="408.0" cy="85.9" r="0.55"/><circle cx="410.6" cy="83.3" r="0.55"/><circle cx="414.6" cy="89.2" r="0.55"/><circle cx="415.9" cy="85.9" r="0.55"/><circle cx="424.4" cy="83.3" r="0.55"/><circle cx="431.6" cy="84.6" r="0.55"/><circle cx="435.5" cy="86.6" r="0.55"/><circle cx="440.0" cy="84.6" r="0.55"/><circle cx="455.8" cy="81.9" r="0.55"/><circle cx="459.7" cy="81.9" r="0.55"/><circle cx="468.8" cy="85.9" r="0.55"/><circle cx="470.8" cy="84.6" r="0.55"/><circle cx="481.2" cy="82.2" r="0.55"/><circle cx="488.5" cy="84.0" r="0.55"/><circle cx="494.6" cy="89.4" r="0.55"/><circle cx="500.7" cy="87.9" r="0.55"/><circle cx="501.6" cy="93.5" r="0.55"/><circle cx="503.5" cy="101.3" r="0.55"/><circle cx="507.5" cy="90.5" r="0.55"/><circle cx="508.6" cy="86.0" r="0.55"/><circle cx="511.4" cy="86.6" r="0.55"/><circle cx="515.3" cy="94.4" r="0.55"/><circle cx="521.6" cy="91.5" r="0.55"/><circle cx="530.3" cy="94.8" r="0.55"/><circle cx="532.6" cy="86.6" r="0.55"/><circle cx="533.4" cy="86.2" r="0.55"/><circle cx="534.2" cy="86.6" r="0.55"/><circle cx="536.5" cy="90.5" r="0.55"/><circle cx="537.6" cy="98.7" r="0.55"/></g>
<g style="opacity:0.999">
<text x="59.7" y="19.00" text-anchor="end">60</text>
<text x="59.7" y="30.00" text-anchor="end">40</text>
<text x="59.7" y="45.00" text-anchor="end">20</text>
<text x="59.7" y="56.00" text-anchor="end">0</text>
<text transform="translate(38 34.20) rotate(-90)" text-anchor="middle">Dropouts</text>
<text x="59.7" y="66.00" text-anchor="end">4.6</text>
<text x="59.7" y="87.00" text-anchor="end">4.4</text>
<text x="59.7" y="113.00" text-anchor="end">4.2</text>
<text x="59.7" y="139.00" text-anchor="end">4.0</text>
<text x="59.7" y="161.00" text-anchor="end">3.8</text>
<text transform="translate(31 109.70) rotate(-90)" text-anchor="middle">Trans</text>
<text x="59.7" y="171.00" text-anchor="end">1.0</text>
<text x="59.7" y="187.00" text-anchor="end">0.8</text>
<text x="59.7" y="207.00" text-anchor="end">0.6</text>
<text x="59.7" y="228.00" text-anchor="end">0.4</text>
<text x="59.7" y="248.00" text-anchor="end">0.2</text>
<text x="59.7" y="265.00" text-anchor="end">0.0</text>
<text transform="translate(31 214.20) rotate(-90)" text-anchor="middle">OxyT</text>
<text x="59.7" y="275.00" text-anchor="end">3.5</text>
<text x="59.7" y="288.00" text-anchor="end">3.0</text>
<text x="59.7" y="305.00" text-anchor="end">2.5</text>
<text x="59.7" y="322.00" text-anchor="end">2.0</text>
<text x="59.7" y="339.00" text-anchor="end">1.5</text>
<text x="59.7" y="356.00" text-anchor="end">1.0</text>
<text x="59.7" y="370.00" text-anchor="end">0.5</text>
<text transform="translate(31 318.70) rotate(-90)" text-anchor="middle">OxyC</text>
<text x="59.7" y="379.40" text-anchor="end">35.0</text>
<text x="59.7" y="396.80" text-anchor="end">34.5</text>
<text x="59.7" y="416.80" text-anchor="end">34.0</text>
<text x="59.7" y="437.80" text-anchor="end">33.5</text>
<text x="59.7" y="457.80" text-anchor="end">33.0</text>
<text x="59.7" y="474.00" text-anchor="end">32.5</text>
<text transform="translate(25 423.20) rotate(-90)" text-anchor="middle">Sal78 (psu)</text>
<text x="59.7" y="484.00" text-anchor="end">20</text>
<text x="59.7" y="505.00" text-anchor="end">15</text>
<text x="59.7" y="531.00" text-anchor="end">10</text>
<text x="59.7" y="557.00" text-anchor="end">5</text>
<text x="59.7" y="579.00" text-anchor="end">0</text>
<text transform="translate(38.3 527.70) rotate(-90)" text-anchor="middle">Temp. (C)</text>
<text x="59.7" y="589.00" text-anchor="end">4000</text>
<text x="59.7" y="635.00" text-anchor="end">2000</text>
<text x="59.7" y="683.00" text-anchor="end">0</text>
<text transform="translate(25 632.20) rotate(-90)" text-anchor="middle">Press. (db)</text>
<text x="62.80" y="695" text-anchor="middle">22:</text>
<text x="99.44" y="695" text-anchor="middle">0:</text>
<text x="136.09" y="695" text-anchor="middle">2:</text>
<text x="172.73" y="695" text-anchor="middle">4:</text>
<text x="209.37" y="695" text-anchor="middle">6:</text>
<text x="246.01" y="695" text-anchor="middle">8:</text>
<text x="282.66" y="695" text-anchor="middle">10:</text>
<text x="319.30" y="695" text-anchor="middle">12:</text>
<text x="355.94" y="695" text-anchor="middle">14:</text>
<text x="392.59" y="695" text-anchor="middle">16:</text>
<text x="429.23" y="695" text-anchor="middle">18:</text>
<text x="465.87" y="695" text-anchor="middle">20:</text>
<text x="502.51" y="695" text-anchor="middle">22:</text>
<text x="539.16" y="695" text-anchor="middle">0:</text>
<text x="62.80" y="707.5" text-anchor="middle">2</text>
<text x="99.44" y="707.5" text-anchor="middle">3</text>
<text x="539.16" y="707.5" text-anchor="middle">4</text>
<text x="72.7" y="720.5" text-anchor="middle">Oct</text>
<text x="319.4" y="721.5" text-anchor="middle">Tiburon 03/Oct/2006</text>
</g>
</svg>
</body></html>
